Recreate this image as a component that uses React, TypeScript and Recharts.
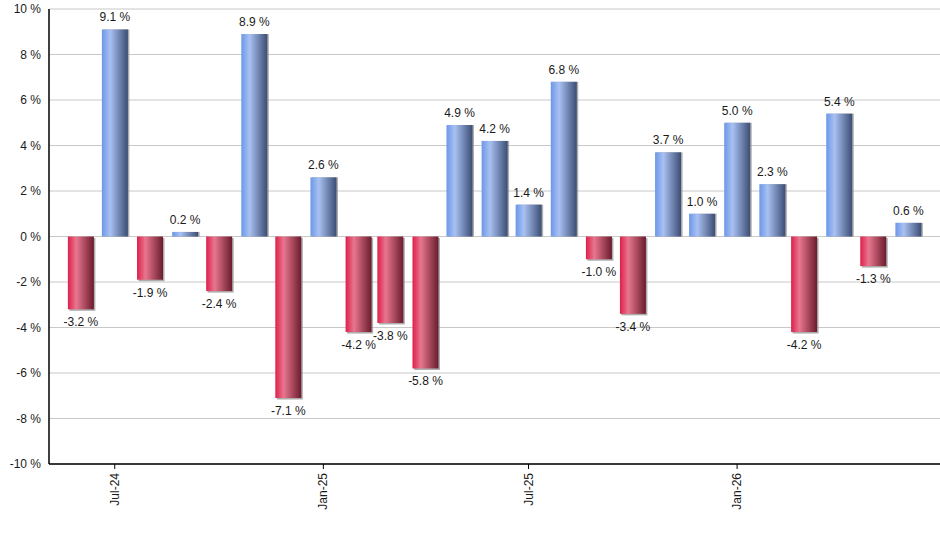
import { Bar, BarChart, CartesianGrid, LabelList, XAxis, YAxis } from 'recharts';

// monthly returns, one bar per month start
const months = [
    '2024-06-01', '2024-07-01', '2024-08-01', '2024-09-01', '2024-10-01', '2024-11-01', '2024-12-01',
    '2025-01-01', '2025-02-01', '2025-03-01', '2025-04-01', '2025-05-01', '2025-06-01', '2025-07-01',
    '2025-08-01', '2025-09-01', '2025-10-01', '2025-11-01', '2025-12-01', '2026-01-01', '2026-02-01',
    '2026-03-01', '2026-04-01', '2026-05-01', '2026-06-01',
];
const returns = [
    -3.2, 9.1, -1.9, 0.2, -2.4, 8.9, -7.1, 2.6, -4.2, -3.8, -5.8, 4.9, 4.2, 1.4, 6.8, -1.0, -3.4, 3.7,
    1.0, 5.0, 2.3, -4.2, 5.4, -1.3, 0.6,
];
const tickDates = ['2024-07-01', '2025-01-01', '2025-07-01', '2026-01-01'];
const tickLabels = ['Jul-24', 'Jan-25', 'Jul-25', 'Jan-26'];
const yTicks = [-10, -8, -6, -4, -2, 0, 2, 4, 6, 8, 10];

const DAY = 86400000;
const toTime = (s: string) => Date.parse(s + 'T00:00:00Z');

const chartData = months.map((m, i) => ({ t: toTime(m), value: returns[i] }));
const xTicks = tickDates.map(toTime);
const xDomain = [toTime(months[0]) - 28 * DAY, toTime(months[months.length - 1]) + 28 * DAY];

const FONT = '"Liberation Sans", Arial, sans-serif';

function GradientBar(props: any) {
    const { x, y, width, height, value } = props;
    if (!height && height !== 0) return null;
    const top = height < 0 ? y + height : y;
    const h = Math.abs(height);
    const fill = value >= 0 ? 'url(#gradUp)' : 'url(#gradDown)';
    return (
        <g>
            <rect x={x + 1.5} y={top + (value >= 0 ? 0 : 1.5)} width={width} height={h} fill="#8a8a8a" opacity={0.7} />
            <rect x={x} y={top} width={width} height={h} fill={fill} />
        </g>
    );
}

function ValueLabel(props: any) {
    const { x, y, width, height, value } = props;
    const cx = x + width / 2;
    const top = height < 0 ? y + height : y;
    const bottom = top + Math.abs(height);
    const ty = value >= 0 ? top - 8 : bottom + 17;
    return (
        <text x={cx} y={ty} textAnchor="middle" fontSize={12} fontFamily={FONT} fill="#1a1a1a">
            {value.toFixed(1)} %
        </text>
    );
}

function MonthTick(props: any) {
    const { x, y, payload } = props;
    const idx = xTicks.indexOf(payload.value);
    const label = idx >= 0 ? tickLabels[idx] : '';
    return (
        <text
            transform={`translate(${x + 4},${y + 2}) rotate(-90)`}
            textAnchor="end"
            fontSize={12}
            fontFamily={FONT}
            fill="#1a1a1a"
        >
            {label}
        </text>
    );
}

export default function App() {
    return (
        <div style={{ position: 'absolute', left: 0, top: 0, background: '#fff' }}>
            <BarChart width={940} height={550} data={chartData} margin={{ top: 9, right: 0, left: 0, bottom: 0 }}>
                <defs>
                    <linearGradient id="gradUp" x1="0" y1="0" x2="1" y2="0">
                        <stop offset="0%" stopColor="#6b97e8" />
                        <stop offset="32%" stopColor="#a9c1f2" />
                        <stop offset="100%" stopColor="#3b4d74" />
                    </linearGradient>
                    <linearGradient id="gradDown" x1="0" y1="0" x2="1" y2="0">
                        <stop offset="0%" stopColor="#de1f4a" />
                        <stop offset="32%" stopColor="#e8768f" />
                        <stop offset="100%" stopColor="#6a1c2d" />
                    </linearGradient>
                </defs>
                <CartesianGrid vertical={false} stroke="#c8c8c8" strokeWidth={1} />
                <XAxis
                    dataKey="t"
                    type="number"
                    scale="time"
                    domain={xDomain}
                    ticks={xTicks}
                    allowDataOverflow
                    height={86}
                    tick={<MonthTick />}
                    tickSize={5}
                    stroke="#000"
                    axisLine={{ stroke: '#000', strokeWidth: 1.5 }}
                    tickLine={{ stroke: '#000' }}
                />
                <YAxis
                    domain={[-10, 10]}
                    ticks={yTicks}
                    width={49}
                    tickLine={false}
                    axisLine={{ stroke: '#000', strokeWidth: 1.5 }}
                    tickFormatter={(v: number) => `${v} %`}
                    tick={{ fontSize: 12, fontFamily: FONT, fill: '#1a1a1a' }}
                    tickMargin={2}
                    interval={0}
                />
                <Bar dataKey="value" barSize={26} shape={<GradientBar />} isAnimationActive={false}>
                    <LabelList dataKey="value" content={<ValueLabel />} />
                </Bar>
            </BarChart>
        </div>
    );
}
